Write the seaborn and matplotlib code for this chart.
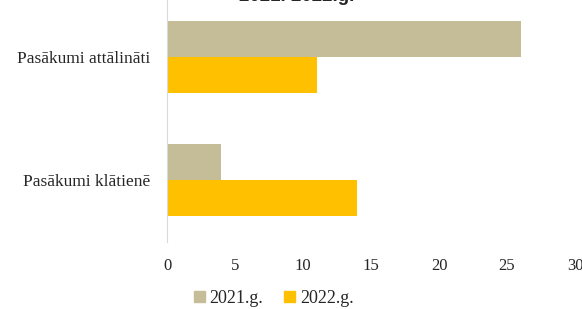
import pandas as pd
import matplotlib.pyplot as plt
import seaborn as sns

categories = ['Pasākumi attālināti', 'Pasākumi klātienē']
years = ['2021.g.', '2022.g.']
values_2021 = [26, 4]
values_2022 = [11, 14]
x_ticks = [0, 5, 10, 15, 20, 25, 30]
title = '2021. 2022.g.'

colors = {'2021.g.': '#C4BD97', '2022.g.': '#FFC000'}

df = pd.DataFrame({
    'category': categories * 2,
    'year': [years[0]] * len(categories) + [years[1]] * len(categories),
    'value': values_2021 + values_2022,
})

sns.set_style('white')
plt.rcParams['font.family'] = ['Liberation Serif', 'DejaVu Serif']

fig = plt.figure(figsize=(5.82, 3.09), dpi=100)
ax = fig.add_axes([0.287, 0.2184, 0.701, 0.796])

sns.barplot(data=df, x='value', y='category', hue='year', orient='h',
            palette=colors, width=0.58, gap=0, saturation=1,
            linewidth=0, ax=ax, legend=False)

ax.set_xlim(0, 30)
ax.set_xticks(x_ticks)
ax.set_xticklabels([str(t) for t in x_ticks], fontsize=12)
ax.tick_params(axis='y', labelsize=12.5, length=0, pad=12)
ax.tick_params(axis='x', length=0, pad=12)
ax.set_xlabel('')
ax.set_ylabel('')
for side in ['top', 'right', 'bottom']:
    ax.spines[side].set_visible(False)
ax.spines['left'].set_color('#d9d9d9')
ax.grid(False)

fig.text(0.51, 1.011, title, ha='center', va='center', fontsize=13.5,
         fontweight='bold', family=['Liberation Sans', 'DejaVu Sans'])

handles = [plt.Rectangle((0, 0), 1, 1, color=colors[y]) for y in years]
fig.legend(handles, years, loc='center', bbox_to_anchor=(0.47, 0.035),
           ncol=2, frameon=False, fontsize=13, handlelength=0.6,
           handleheight=0.6, handletextpad=0.25, columnspacing=1.2)

fig.savefig('out.png', dpi=100)
